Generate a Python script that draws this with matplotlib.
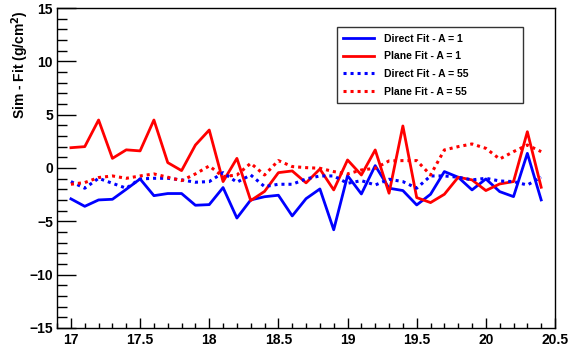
import numpy as np
import matplotlib
matplotlib.use("Agg")
import matplotlib.pyplot as plt
from matplotlib.ticker import MultipleLocator

plt.rcParams['font.family'] = ['Liberation Sans', 'DejaVu Sans']
plt.rcParams['font.weight'] = 'bold'
plt.rcParams['mathtext.default'] = 'bf'

# energies (log10 E) 17.0 .. 20.4
energy = [17.0, 17.1, 17.2, 17.3, 17.4, 17.5, 17.6, 17.7, 17.8, 17.9,
          18.0, 18.1, 18.2, 18.3, 18.4, 18.5, 18.6, 18.7, 18.8, 18.9,
          19.0, 19.1, 19.2, 19.3, 19.4, 19.5, 19.6, 19.7, 19.8, 19.9,
          20.0, 20.1, 20.2, 20.3, 20.4]

direct_a1 = [-2.9, -3.6, -3.0, -2.94, -2.0, -1.03, -2.6, -2.4, -2.4, -3.5,
             -3.44, -1.84, -4.7, -3.0, -2.7, -2.56, -4.5, -2.88, -1.97, -5.8,
             -0.72, -2.44, 0.22, -1.9, -2.12, -3.47, -2.47, -0.34, -0.87, -2.06,
             -1.03, -2.22, -2.69, 1.37, -3.0]

plane_a1 = [1.9, 2.0, 4.5, 0.9, 1.7, 1.6, 4.5, 0.5, -0.25, 2.15,
            3.56, -1.28, 0.9, -3.06, -2.2, -0.44, -0.28, -1.4, -0.1, -2.06,
            0.75, -0.66, 1.69, -2.37, 3.94, -2.78, -3.25, -2.47, -0.87, -1.12,
            -2.12, -1.5, -1.28, 3.4, -1.81]

direct_a55 = [-1.28, -1.9, -0.97, -1.44, -1.9, -1.03, -0.97, -0.97, -1.12, -1.34,
              -1.28, -0.44, -1.34, -0.66, -1.75, -1.53, -1.53, -1.03, -0.75, -0.75,
              -1.44, -1.19, -1.6, -1.06, -1.28, -1.9, -0.75, -0.75, -0.87, -1.12,
              -0.97, -1.22, -1.28, -1.6, -0.87]

plane_a55 = [-1.53, -1.37, -0.9, -0.75, -0.97, -0.75, -0.56, -0.87, -1.19, -0.56,
             0.19, -0.81, -0.66, 0.44, -0.66, 0.69, 0.13, 0.03, -0.03, -0.34,
             -0.56, -0.19, -0.03, 0.66, 0.69, 0.69, -0.66, 1.69, 2.0, 2.25,
             1.84, 0.84, 1.53, 2.15, 1.53]

fig = plt.figure(figsize=(5.71, 3.51), dpi=100)
ax = fig.add_axes([0.1, 0.066, 0.872, 0.911])

dots = (0, (1.0, 1.3))
ax.plot(energy, direct_a1, color='#0000ff', lw=2, label='Direct Fit - A = 1')
ax.plot(energy, plane_a1, color='#ff0000', lw=2, label='Plane Fit - A = 1')
ax.plot(energy, direct_a55, color='#0000ff', lw=2.2, ls=dots, label='Direct Fit - A = 55')
ax.plot(energy, plane_a55, color='#ff0000', lw=2.2, ls=dots, label='Plane Fit - A = 55')

ax.set_xlim(16.9, 20.5)
ax.set_ylim(-15, 15)
ax.xaxis.set_major_locator(MultipleLocator(0.5))
ax.xaxis.set_minor_locator(MultipleLocator(0.1))
ax.yaxis.set_major_locator(MultipleLocator(5))
ax.yaxis.set_minor_locator(MultipleLocator(1))
ax.xaxis.set_major_formatter(plt.FuncFormatter(lambda v, p: f"{v:g}"))
ax.tick_params(axis='x', which='major', direction='in', length=7, width=1, labelsize=10, pad=4)
ax.tick_params(axis='x', which='minor', direction='in', length=3.5, width=1)
ax.tick_params(axis='y', which='major', direction='in', length=14, width=1, labelsize=10, pad=3)
ax.tick_params(axis='y', which='minor', direction='in', length=7, width=1)
for s in ax.spines.values():
    s.set_linewidth(1)

# y title, ROOT style: top-aligned against the frame
fig.text(20 / 571, 1 - 10 / 351, 'Sim - Fit (g/cm$^2$)', rotation=90,
         ha='center', va='top', fontsize=10, fontweight='bold')

leg = ax.legend(loc='upper left', bbox_to_anchor=(0.562, 0.6875, 0.374, 0.2525),
                mode='expand', fontsize=7.5, frameon=True, fancybox=False,
                edgecolor='black', handlelength=3.0, handletextpad=0.9,
                labelspacing=0.75, borderpad=0.6, borderaxespad=0)
leg.get_frame().set_linewidth(1)

fig.savefig('out.png', dpi=100)
